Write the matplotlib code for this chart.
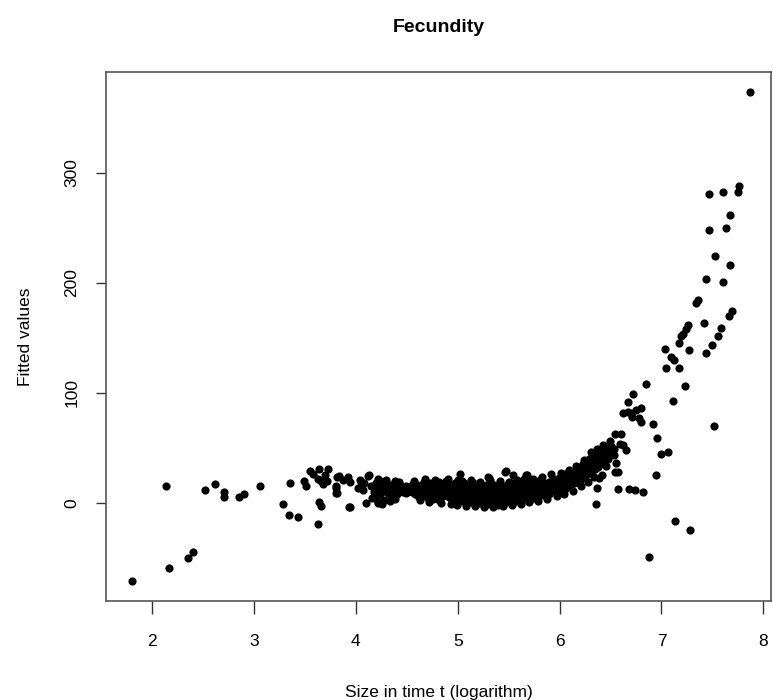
import matplotlib.pyplot as plt

plt.rcParams['font.family'] = ['Liberation Sans', 'DejaVu Sans']

# scattered points on the left (small sizes)
x_left = [1.80, 2.14, 2.16, 2.35, 2.40, 2.52, 2.62, 2.70, 2.70, 2.85, 2.90, 3.06,
          3.28, 3.35, 3.34, 3.43, 3.49, 3.51, 3.55, 3.58, 3.64, 3.73, 3.66, 3.72,
          3.63, 3.64, 3.66, 3.63, 3.81, 3.80, 3.81, 3.83, 3.92, 3.80, 3.80, 3.93,
          4.04, 4.12, 3.87, 3.94, 4.05, 4.02, 4.07, 4.13, 4.15, 4.10, 4.16, 3.94,
          4.22, 4.08, 4.18, 3.70, 3.68]
y_left = [-71, 15.5, -59, -50, -45, 11.5, 17, 10, 5, 5, 8, 15.5,
          -1, 18.5, -11, -13, 20, 15, 29, 26.5, 30.5, 30.5, 20, 20,
          22, 0.6, -2.4, -19, 24, 15, 9.4, 24.5, 23.4, 14, 9, -4,
          21, 24.5, 21, 19.4, 19.4, 13.4, 12, 25.5, 15, 0.3, 4.3, -4,
          -0.3, 18, 10, 25, 17]

# dense band of middle sizes: (x, [y values])
band_cols = [
    (4.20, [12, 18, 5]), (4.24, [15, 8, 20]), (4.28, [11, 17, 3]),
    (4.31, [14, 9]), (4.34, [16, 12, 6]), (4.37, [13, 10, 17]),
    (4.40, [15, 11, 8]), (4.43, [12, 14, 16]), (4.46, [10, 13]),
    (4.49, [12, 15, 9]), (4.52, [11, 13]), (4.55, [10, 14, 16]),
    (4.58, [12, 8, 17]), (4.61, [13, 10, 15, 6]), (4.64, [11, 16, 9]),
    (4.67, [14, 7, 12, 19]), (4.70, [10, 15, 5, 13]), (4.73, [12, 18, 8]),
    (4.76, [9, 14, 4, 16]), (4.79, [11, 17, 7, 13]), (4.82, [10, 15, 3, 19]),
    (4.85, [12, 8, 16, 6]), (4.88, [9, 14, 11, 20]), (4.91, [13, 5, 17, 10]),
    (4.94, [8, 12, 15, 3]), (4.97, [11, 18, 6, 14]), (5.00, [9, 13, 4, 16, 21]),
    (5.03, [7, 12, 15, 2]), (5.06, [10, 5, 14, 18]), (5.09, [8, 12, 3, 16]),
    (5.12, [6, 11, 14, 1]), (5.15, [9, 4, 13, 18]), (5.18, [7, 11, 2, 15]),
    (5.21, [5, 10, 13, 0]), (5.24, [8, 3, 12, 16]), (5.27, [6, 10, 1, 14]),
    (5.30, [4, 9, 12, -1, 17]), (5.33, [7, 2, 11, 14]), (5.36, [5, 9, 0, 13]),
    (5.39, [3, 8, 12, -2]), (5.42, [6, 1, 10, 15]), (5.45, [4, 8, 0, 12]),
    (5.48, [7, 2, 11, 16]), (5.51, [5, 9, 1, 13]), (5.54, [3, 8, 12, 18]),
    (5.57, [6, 10, 2, 14]), (5.60, [8, 4, 12, 17]), (5.63, [7, 11, 3, 15]),
    (5.66, [9, 5, 13, 18]), (5.69, [10, 6, 14, 20]), (5.72, [8, 12, 4, 16]),
    (5.75, [11, 7, 15, 19]), (5.78, [9, 13, 6, 17]), (5.81, [12, 8, 16, 21]),
    (5.84, [10, 14, 7, 18]), (5.87, [13, 9, 17]), (5.90, [11, 15, 19, 8]),
    (5.93, [14, 12, 18, 22]), (5.96, [13, 16, 10, 20]), (5.99, [15, 18, 12, 23]),
    (6.02, [14, 17, 20, 11]), (6.05, [16, 19, 22, 13, 26]), (6.08, [17, 21, 15, 24]),
    (6.11, [19, 22, 16, 27]), (6.14, [20, 24, 18, 29]), (6.17, [22, 26, 19, 31]),
    (6.20, [24, 28, 21, 33]), (6.23, [26, 30, 23, 35]), (6.26, [28, 33, 25, 37]),
    (6.29, [30, 35, 27, 40]), (6.32, [33, 38, 29, 43]), (6.35, [35, 40, 31, 45]),
    (6.38, [37, 42, 33]), (6.41, [40, 44, 36, 48]), (6.44, [42, 47, 38]),
    (6.47, [44, 50, 40]), (6.50, [47, 52]), (6.53, [49, 44]),
]

# edge points that make the band thicker
band_edge = [
    (4.22, [22, 1]), (4.26, [-1]), (4.30, [21]), (4.33, [2]), (4.38, [20, 4]),
    (4.42, [19]), (4.57, [20]), (4.63, [3]),
    (4.68, [22]), (4.72, [1]), (4.78, [21]), (4.84, [0]), (4.90, [22]),
    (4.93, [-1]), (4.99, [-2]), (5.04, [20]), (5.08, [-3]), (5.13, [21]),
    (5.17, [-3]), (5.22, [19]), (5.26, [-4]), (5.32, [21]), (5.35, [-4]),
    (5.41, [20]), (5.44, [-3]), (5.50, [19]), (5.53, [-2]), (5.58, [21]),
    (5.62, [-1]), (5.65, [22]), (5.70, [1]), (5.74, [22]), (5.79, [2]),
    (5.83, [24]), (5.88, [4]), (5.92, [26]), (5.97, [6]), (6.01, [27]),
    (6.04, [8]), (6.09, [30]), (6.13, [11]), (6.16, [34]), (6.21, [15]),
    (6.24, [39]), (6.28, [19]), (6.31, [46]), (6.34, [24]), (6.37, [49]),
    (6.43, [53]), (6.46, [34]), (6.49, [56]),
]

# loose points above/below the band
x_loose = [5.02, 5.30, 5.46, 5.54, 5.67, 5.15, 5.36, 5.31, 5.47, 5.68,
           6.36, 6.37, 6.39, 6.42, 6.55, 6.54, 6.57]
y_loose = [26, 24, 28.5, 25.5, 25.5, 18, 16.4, 23, 29, 25,
           -1, 14, 22.5, 25.5, 36, 28.5, 28.5]

# large sizes: upper branch and low outliers
x_right = [6.54, 6.60, 6.59, 6.62, 6.65, 6.62, 6.67, 6.70, 6.75, 6.78,
           6.67, 6.72, 6.71, 6.80, 6.80, 6.85, 6.92, 6.96, 7.00, 7.06,
           6.95, 7.03, 7.09, 7.12, 7.04, 7.17, 7.11, 7.23, 7.17, 7.19,
           7.21, 7.24, 7.26, 7.27, 7.34, 7.36, 7.42, 7.44, 7.50, 7.55,
           7.58, 7.52, 7.66, 7.69, 7.44, 7.60, 7.53, 7.67, 7.47, 7.63,
           7.67, 7.47, 7.60, 7.75, 7.76, 7.87,
           6.57, 6.68, 6.74, 6.82, 7.13, 7.28, 6.88]
y_right = [63, 63, 54, 53, 48, 82, 83, 81.5, 84.5, 77,
           92, 99, 78.5, 74, 86, 108, 71.5, 59, 44.5, 46.6,
           25.5, 140, 133, 130, 123, 123, 93, 106, 145, 152,
           154, 158, 162, 139, 181.5, 184.5, 164, 136, 144, 152,
           159, 70, 170, 175, 204, 201, 225, 216, 248, 250,
           262, 281, 283, 283, 288, 374,
           13, 12.5, 12, 10, -16, -24.5, -49]

cols = band_cols + band_edge
x_band = [x for x, ys in cols for _ in ys]
y_band = [y for _, ys in cols for y in ys]

x_all = x_left + x_band + x_loose + x_right
y_all = y_left + y_band + y_loose + y_right

fig = plt.figure(figsize=(7.73, 7.0), dpi=100)
ax = fig.add_axes([0.1371, 0.1419, 0.8603, 0.7552])
ax.plot(x_all, y_all, 'o', color='black', ms=5.9, mew=0)

ax.set_xlim(1.546, 8.075)
ax.set_ylim(-88.8, 391.8)
ax.set_xticks([2, 3, 4, 5, 6, 7, 8])
ax.set_yticks([0, 100, 200, 300])
ax.tick_params(axis='x', length=9, width=1, color='#333', labelsize=12.5, pad=15)
ax.tick_params(axis='y', length=7, width=1, color='#333', labelsize=12.5, pad=12)
for lab in ax.get_yticklabels():
    lab.set_rotation(90)
    lab.set_va('center')
for s in ax.spines.values():
    s.set_color('#555')
    s.set_linewidth(1.2)

ax.set_title('Fecundity', fontsize=14, fontweight='bold', pad=29)
ax.set_xlabel('Size in time t (logarithm)', fontsize=12.5, labelpad=26)
ax.set_ylabel('Fitted values', fontsize=12.5, labelpad=23)

fig.savefig('out.png', dpi=100)
